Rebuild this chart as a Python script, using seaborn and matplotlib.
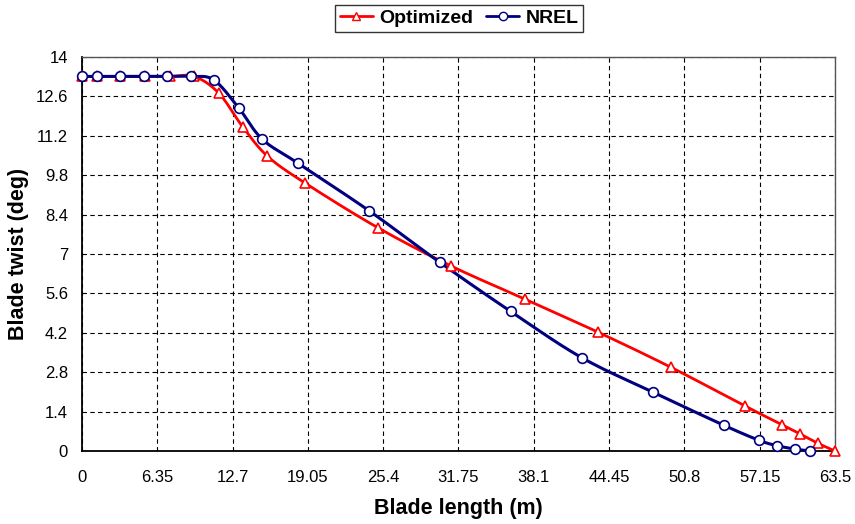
import numpy as np
import pandas as pd
import matplotlib
matplotlib.use("Agg")
import matplotlib.pyplot as plt
from matplotlib.lines import Line2D
from matplotlib.ticker import MultipleLocator, FixedLocator
import seaborn as sns

# blade twist
opt_x = [0, 1.24, 3.2, 5.3, 7.4, 9.47, 11.55, 13.55, 15.63, 18.78, 24.93, 31.1,
         37.33, 43.53, 49.69, 55.9, 59.0, 60.54, 62.08, 63.5]
opt_y = [13.31, 13.31, 13.31, 13.31, 13.31, 13.31, 12.71, 11.52, 10.48, 9.53, 7.94, 6.58,
         5.40, 4.22, 2.97, 1.60, 0.94, 0.61, 0.27, 0.0]

nrel_x = [0, 1.24, 3.2, 5.23, 7.2, 9.2, 11.1, 13.2, 15.2, 18.2, 24.2, 30.15,
          36.15, 42.13, 48.15, 54.1, 57.1, 58.6, 60.1, 61.4]
nrel_y = [13.31, 13.31, 13.31, 13.31, 13.31, 13.31, 13.19, 12.20, 11.08, 10.23, 8.54, 6.71,
          4.96, 3.32, 2.09, 0.92, 0.38, 0.19, 0.07, 0.0]

x_ticks = [round(6.35 * k, 2) for k in range(11)]
y_ticks = [round(1.4 * k, 1) for k in range(11)]


def smooth(xs, ys, n=20):
    # excel-like smoothed line (catmull-rom through the points)
    p = np.column_stack([xs, ys]).astype(float)
    p = np.vstack([p[0], p, p[-1]])
    out = []
    for i in range(1, len(p) - 2):
        p0, p1, p2, p3 = p[i - 1], p[i], p[i + 1], p[i + 2]
        t = np.linspace(0, 1, n, endpoint=False)[:, None]
        c = 0.5 * ((2 * p1) + (-p0 + p2) * t + (2 * p0 - 5 * p1 + 4 * p2 - p3) * t ** 2
                   + (-p0 + 3 * p1 - 3 * p2 + p3) * t ** 3)
        out.append(c)
    out.append(p[-2][None, :])
    out = np.vstack(out)
    return pd.DataFrame({"x": out[:, 0], "y": out[:, 1]})


sns.set_style("white")
plt.rcParams["font.family"] = ["Liberation Sans", "DejaVu Sans"]
plt.rcParams.update({"text.color": "black", "axes.labelcolor": "black",
                     "xtick.color": "black", "ytick.color": "black"})

fig = plt.figure(figsize=(8.55, 5.24), dpi=100)
ax = fig.add_axes([0.0959, 0.1393, 0.8807, 0.7519])

red = "#ff0000"
navy = "#000080"

sns.lineplot(data=smooth(opt_x, opt_y), x="x", y="y", sort=False, estimator=None,
             color=red, lw=2, ax=ax, legend=False, zorder=3)
sns.lineplot(data=smooth(nrel_x, nrel_y), x="x", y="y", sort=False, estimator=None,
             color=navy, lw=2.2, ax=ax, legend=False, zorder=4)
ax.plot(opt_x, opt_y, ls="none", marker="^", ms=7, mfc="white", mec=red, mew=1.2,
        zorder=5, clip_on=False)
ax.plot(nrel_x, nrel_y, ls="none", marker="o", ms=7, mfc="white", mec=navy, mew=1.2,
        zorder=6, clip_on=False)

ax.set_xlim(0, 63.5)
ax.set_ylim(0, 14)
ax.xaxis.set_major_locator(FixedLocator(x_ticks))
ax.yaxis.set_major_locator(FixedLocator(y_ticks))
ax.xaxis.set_minor_locator(MultipleLocator(1.27))
ax.yaxis.set_minor_locator(MultipleLocator(0.35))
ax.set_xticklabels([f"{v:g}" for v in x_ticks])
ax.set_yticklabels([f"{v:g}" for v in y_ticks])

for lab in ax.get_xticklabels() + ax.get_yticklabels():
    lab.set_fontsize(12)

ax.tick_params(which="major", direction="inout", length=8, width=1, color="black", pad=6)
ax.tick_params(which="minor", direction="in", length=4, width=1, color="black")
ax.tick_params(axis="x", which="major", pad=10)

ax.grid(True, which="major", ls=(0, (4, 3)), color="black", lw=0.8)
ax.set_axisbelow(True)

for s in ["left", "bottom"]:
    ax.spines[s].set_color("black")
    ax.spines[s].set_linewidth(1.3)
for s in ["top", "right"]:
    ax.spines[s].set_color("#555555")
    ax.spines[s].set_linewidth(1)

ax.set_xlabel("Blade length (m)", fontsize=15.5, fontweight="bold", labelpad=9)
ax.set_ylabel("Blade twist (deg)", fontsize=15.5, fontweight="bold")
ax.yaxis.set_label_coords(-0.070, 0.5)

handles = [
    Line2D([], [], color=red, lw=2, marker="^", ms=6, mfc="white", mec=red),
    Line2D([], [], color=navy, lw=2, marker="o", ms=6, mfc="white", mec=navy),
]
leg = fig.legend(handles, ["Optimized", "NREL"], loc="center", bbox_to_anchor=(0.537, 0.965),
                 ncol=2, frameon=True, fancybox=False, edgecolor="black",
                 prop={"weight": "bold", "size": 14}, handlelength=1.7,
                 columnspacing=0.7, handletextpad=0.3, borderpad=0.25)
leg.get_frame().set_linewidth(1)

fig.savefig("out.png", dpi=100)
